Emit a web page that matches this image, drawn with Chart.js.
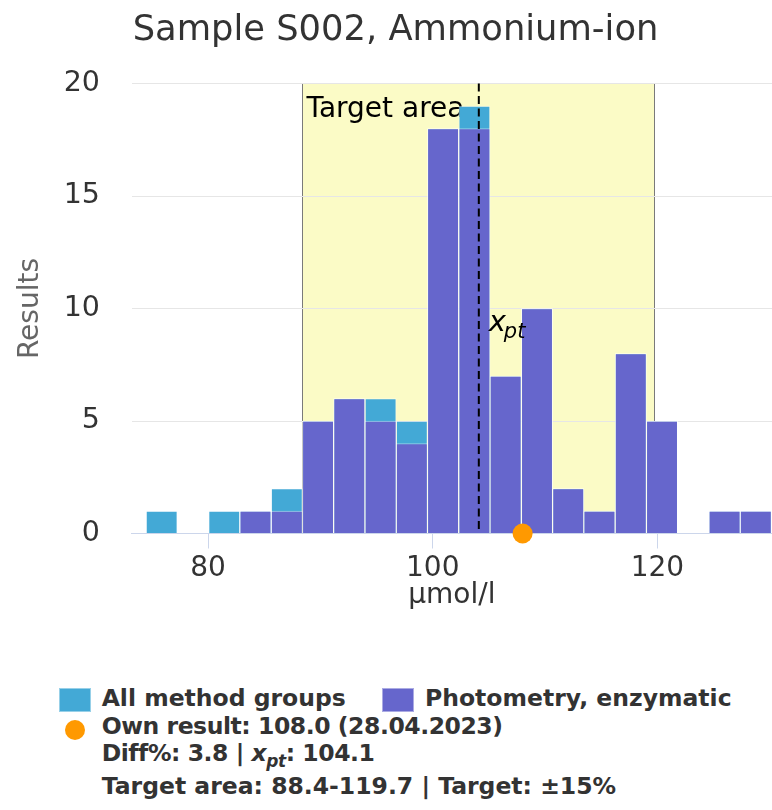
<!DOCTYPE html>
<html>
<head>
<meta charset="utf-8">
<title>Sample S002, Ammonium-ion</title>
<script src="https://cdn.jsdelivr.net/npm/chart.js@4.4.1/dist/chart.umd.min.js"></script>
<style>
  html, body { margin: 0; padding: 0; background: #ffffff; }
  #wrap { position: relative; width: 772px; height: 810px; font-family: 'DejaVu Sans', sans-serif; overflow: hidden; }
  #chartBox { position: absolute; left: 0; top: 0; width: 772px; height: 640px; }
  .lg { position: absolute; font-weight: bold; font-size: 23.5px; line-height: 1; color: #333333; white-space: nowrap; }
  .tight { letter-spacing: -0.45px; }
  .sym { position: absolute; box-sizing: border-box; }
  .sub { position: relative; top: 6px; font-size: 17px; }
</style>
</head>
<body>
<div id="wrap">
  <div id="chartBox"><canvas id="histChart"></canvas></div>
  <div id="legend"></div>
</div>
<script>
// Histogram bins (bin centres, µmol/l) and counts per bin
const binCenters = [75.87, 78.66, 81.44, 84.22, 87.01, 89.79, 92.57, 95.36, 98.14, 100.92,
                    103.71, 106.49, 109.28, 112.06, 114.84, 117.63, 120.41, 123.19, 125.98, 128.76];
const allMethodGroups = [1, 0, 1, 1, 2, 5, 6, 6, 5, 18, 19, 7, 10, 2, 1, 8, 5, 0, 1, 1];
const photometry = [0, 0, 0, 1, 1, 5, 6, 5, 4, 18, 18, 7, 10, 2, 1, 8, 5, 0, 1, 1];

const seriesNames = ['All method groups', 'Photometry, enzymatic'];
const ownResult = 108.0;
const ownDate = '28.04.2023';
const xpt = 104.1;
const diffPct = 3.8;
const targetArea = [88.4, 119.7];
const targetPct = 15;

const xTicks = [80, 100, 120];
const yTicks = [0, 5, 10, 15, 20];

const colors = {
    all: '#43a9d6',
    photo: '#6666cc',
    own: '#ff9900',
    band: '#fbfbc6'
};

// Draws the target area band under the grid lines
const targetBandPlugin = {
    id: 'targetBand',
    afterLayout(chart) {
        // the title sits a bit right of the canvas centre
        if (chart.titleBlock) {
            chart.titleBlock.left = 9.5;
            chart.titleBlock.right = 781.5;
        }
    },
    beforeDraw(chart) {
        const {ctx, chartArea, scales} = chart;
        const x1 = scales.x.getPixelForValue(targetArea[0]);
        const x2 = scales.x.getPixelForValue(targetArea[1]);
        ctx.save();
        ctx.fillStyle = colors.band;
        ctx.fillRect(x1, chartArea.top, x2 - x1, chartArea.bottom - chartArea.top);
        ctx.strokeStyle = '#7a7a7a';
        ctx.lineWidth = 1;
        ctx.beginPath();
        ctx.moveTo(Math.round(x1) + 0.5, chartArea.top);
        ctx.lineTo(Math.round(x1) + 0.5, chartArea.bottom);
        ctx.moveTo(Math.round(x2) + 0.5, chartArea.top);
        ctx.lineTo(Math.round(x2) + 0.5, chartArea.bottom);
        ctx.stroke();
        ctx.fillStyle = '#000000';
        ctx.font = '28px "DejaVu Sans"';
        ctx.textBaseline = 'alphabetic';
        ctx.fillText('Target area', x1 + 4, chartArea.top + 33);
        ctx.restore();
    },
    // x_pt line goes on top of the bars
    afterDatasetsDraw(chart) {
        const {ctx, chartArea, scales} = chart;
        const x = scales.x.getPixelForValue(xpt);
        ctx.save();
        ctx.strokeStyle = '#000000';
        ctx.lineWidth = 2;
        ctx.setLineDash([8, 4.5]);
        ctx.beginPath();
        ctx.moveTo(x, chartArea.top);
        ctx.lineTo(x, chartArea.bottom);
        ctx.stroke();
        ctx.setLineDash([]);
        ctx.fillStyle = '#000000';
        ctx.font = 'italic 29px "DejaVu Sans"';
        ctx.fillText('x', x + 10, chartArea.top + 247);
        ctx.font = 'italic 21px "DejaVu Sans"';
        ctx.fillText('pt', x + 25, chartArea.top + 254);
        ctx.restore();
    }
};

const ctx = document.getElementById('histChart').getContext('2d');
const histChart = new Chart(ctx, {
    type: 'bar',
    data: {
        datasets: [{
            label: seriesNames[0],
            data: binCenters.map((c, i) => ({x: c, y: allMethodGroups[i]})),
            backgroundColor: colors.all,
            borderColor: 'rgba(255,255,255,0.45)',
            borderWidth: 1,
            order: 2
        }, {
            label: seriesNames[1],
            data: binCenters.map((c, i) => ({x: c, y: photometry[i]})),
            backgroundColor: colors.photo,
            borderColor: 'rgba(255,255,255,0.45)',
            borderWidth: 1,
            order: 1
        }, {
            type: 'scatter',
            label: 'Own result',
            data: [{x: ownResult, y: 0}],
            backgroundColor: colors.own,
            borderWidth: 0,
            pointRadius: 10,
            pointHoverRadius: 10,
            clip: false,
            order: 0
        }]
    },
    options: {
        responsive: true,
        maintainAspectRatio: false,
        animation: false,
        grouped: false,
        barPercentage: 1,
        categoryPercentage: 1,
        layout: { padding: 0, autoPadding: false },
        plugins: {
            legend: { display: false },
            tooltip: { enabled: false },
            title: {
                display: true,
                text: 'Sample S002, Ammonium-ion',
                color: '#333333',
                font: { family: 'DejaVu Sans', size: 35.3, weight: 'normal', lineHeight: 1.2 },
                padding: { top: 10, bottom: 31.2 }
            }
        },
        scales: {
            x: {
                type: 'linear',
                min: 73.2,
                max: 130.2,
                offset: false,
                afterBuildTicks: axis => { axis.ticks = xTicks.map(v => ({value: v})); },
                afterFit: axis => {
                    axis.height = 106.5;
                    axis.paddingLeft = 0;
                    axis.paddingRight = 0;
                },
                grid: {
                    offset: false,
                    drawOnChartArea: false,
                    drawTicks: true,
                    tickLength: 15,
                    color: '#ccd6eb'
                },
                border: { display: true, color: '#ccd6eb', width: 1 },
                ticks: {
                    color: '#333333',
                    padding: 3,
                    font: { family: 'DejaVu Sans', size: 28 }
                },
                title: {
                    display: true,
                    text: 'µmol/l',
                    color: '#333333',
                    font: { family: 'DejaVu Sans', size: 28 },
                    padding: { top: 0, bottom: 27 }
                }
            },
            y: {
                min: 0,
                max: 20,
                afterBuildTicks: axis => { axis.ticks = yTicks.map(v => ({value: v})); },
                afterFit: axis => { axis.width = 131.7; },
                grid: {
                    drawTicks: false,
                    color: c => (c.tick && c.tick.value === 0) ? 'rgba(0,0,0,0)' : '#e6e6e6'
                },
                border: { display: false },
                ticks: {
                    color: '#333333',
                    padding: 31.7,
                    font: { family: 'DejaVu Sans', size: 28.5 }
                },
                title: {
                    display: true,
                    text: 'Results',
                    color: '#666666',
                    font: { family: 'DejaVu Sans', size: 28 },
                    padding: { top: 14, bottom: 0 }
                }
            }
        }
    },
    plugins: [targetBandPlugin]
});

// Legend below the chart (HTML text)
function buildLegend() {
    const legend = document.getElementById('legend');
    const items = [
        {sym: {left: 59, top: 688, w: 32, h: 24, color: colors.all}, text: seriesNames[0], left: 101.7, top: 687.4},
        {sym: {left: 381.7, top: 688, w: 32, h: 24, color: colors.photo}, text: seriesNames[1], left: 425, top: 687.4},
        {sym: {left: 65, top: 720, w: 20, h: 20, color: colors.own, round: true},
         text: 'Own result: ' + ownResult.toFixed(1) + ' (' + ownDate + ')', left: 101.7, top: 715.1, tight: true},
        {html: 'Diff%: ' + diffPct.toFixed(1) + ' | <i>x</i><span class="sub"><i>pt</i></span>: ' + xpt.toFixed(1),
         left: 101.7, top: 742.4, tight: true},
        {text: 'Target area: ' + targetArea[0].toFixed(1) + '-' + targetArea[1].toFixed(1) + ' | Target: ±' + targetPct + '%',
         left: 101.7, top: 775.1}
    ];
    items.forEach(it => {
        if (it.sym) {
            const s = document.createElement('div');
            s.className = 'sym';
            s.style.left = it.sym.left + 'px';
            s.style.top = it.sym.top + 'px';
            s.style.width = it.sym.w + 'px';
            s.style.height = it.sym.h + 'px';
            s.style.background = it.sym.color;
            if (it.sym.round) {
                s.style.borderRadius = '50%';
            } else {
                s.style.border = '1px solid rgba(255,255,255,0.45)';
            }
            legend.appendChild(s);
        }
        const t = document.createElement('div');
        t.className = it.tight ? 'lg tight' : 'lg';
        t.style.left = it.left + 'px';
        t.style.top = it.top + 'px';
        if (it.html) {
            t.innerHTML = it.html;
        } else {
            t.textContent = it.text;
        }
        legend.appendChild(t);
    });
}
buildLegend();
</script>
</body>
</html>
